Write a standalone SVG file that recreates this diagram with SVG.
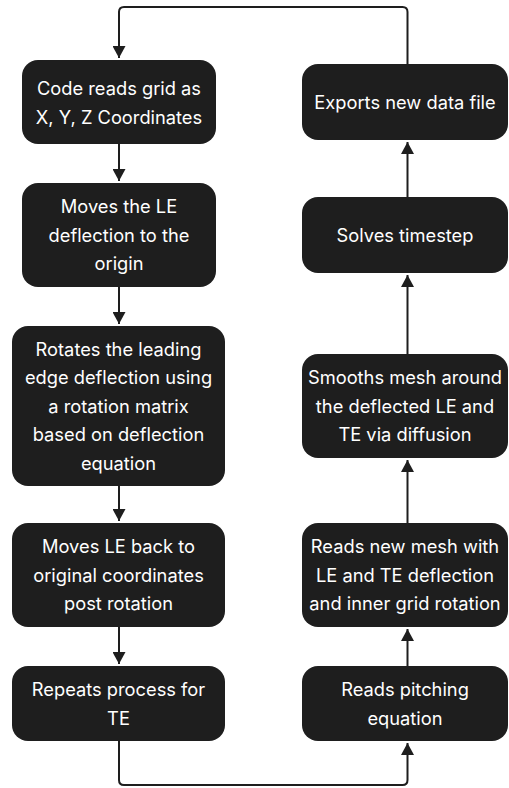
<svg xmlns="http://www.w3.org/2000/svg" width="509" height="788" viewBox="0 0 509 788">
<style>
.box{fill:#1e1e1e;}
.t{font-family:Inter,"Noto Sans","Liberation Sans",sans-serif;font-size:18.3px;fill:#ffffff;text-anchor:middle;}
.c{fill:none;stroke:#1e1e1e;stroke-width:2;}
</style>
<defs>
<marker id="ah" markerUnits="userSpaceOnUse" markerWidth="13" markerHeight="13" refX="12" refY="6.5" orient="auto">
<path d="M0,0 L12,6.5 L0,13 z" fill="#1e1e1e"/>
</marker>
</defs>
<rect width="509" height="788" fill="#ffffff"/>
<g id="connectors">
<path class="c" d="M407.5,64 V12 Q407.5,7 402.5,7 H124 Q119,7 119,12 V58" marker-end="url(#ah)"/>
<path class="c" d="M119,144 V181" marker-end="url(#ah)"/>
<path class="c" d="M119,287 V324" marker-end="url(#ah)"/>
<path class="c" d="M119,486 V521" marker-end="url(#ah)"/>
<path class="c" d="M119,627 V664" marker-end="url(#ah)"/>
<path class="c" d="M119,741 V780 Q119,785 124,785 H402.5 Q407.5,785 407.5,780 V743" marker-end="url(#ah)"/>
<path class="c" d="M407.5,666 V629" marker-end="url(#ah)"/>
<path class="c" d="M407.5,523 V460" marker-end="url(#ah)"/>
<path class="c" d="M407.5,354 V275" marker-end="url(#ah)"/>
<path class="c" d="M407.5,197 V142" marker-end="url(#ah)"/>
</g>
<g id="n1">
<rect class="box" x="22" y="60" width="194" height="84" rx="16"/>
<text class="t" x="119" y="95">Code reads grid as</text>
<text class="t" x="119" y="124">X, Y, Z Coordinates</text>
</g>
<g id="n2">
<rect class="box" x="22" y="183" width="194" height="104" rx="16"/>
<text class="t" x="119" y="213">Moves the LE</text>
<text class="t" x="119" y="241.5">deflection to the</text>
<text class="t" x="119" y="270">origin</text>
</g>
<g id="n3">
<rect class="box" x="12" y="326" width="213" height="160" rx="16"/>
<text class="t" x="118.5" y="355.5">Rotates the leading</text>
<text class="t" x="118.5" y="384">edge deflection using</text>
<text class="t" x="118.5" y="412.5">a rotation matrix</text>
<text class="t" x="118.5" y="441">based on deflection</text>
<text class="t" x="118.5" y="469.5">equation</text>
</g>
<g id="n4">
<rect class="box" x="12" y="523" width="213" height="104" rx="16"/>
<text class="t" x="118.5" y="553">Moves LE back to</text>
<text class="t" x="118.5" y="581.5">original coordinates</text>
<text class="t" x="118.5" y="610">post rotation</text>
</g>
<g id="n5">
<rect class="box" x="12" y="666" width="213" height="75" rx="16"/>
<text class="t" x="118.5" y="696">Repeats process for</text>
<text class="t" x="118.5" y="724.5">TE</text>
</g>
<g id="n6">
<rect class="box" x="302" y="666" width="206" height="75" rx="16"/>
<text class="t" x="405" y="696">Reads pitching</text>
<text class="t" x="405" y="724.5">equation</text>
</g>
<g id="n7">
<rect class="box" x="302" y="523" width="206" height="104" rx="16"/>
<text class="t" x="405" y="553">Reads new mesh with</text>
<text class="t" x="405" y="581.5">LE and TE deflection</text>
<text class="t" x="405" y="610">and inner grid rotation</text>
</g>
<g id="n8">
<rect class="box" x="302" y="354" width="206" height="104" rx="16"/>
<text class="t" x="405" y="384">Smooths mesh around</text>
<text class="t" x="405" y="412.5">the deflected LE and</text>
<text class="t" x="405" y="441">TE via diffusion</text>
</g>
<g id="n9">
<rect class="box" x="302" y="197" width="206" height="76" rx="16"/>
<text class="t" x="405" y="241.5">Solves timestep</text>
</g>
<g id="n10">
<rect class="box" x="302" y="64" width="206" height="76" rx="16"/>
<text class="t" x="405" y="108.5">Exports new data file</text>
</g>
</svg>
